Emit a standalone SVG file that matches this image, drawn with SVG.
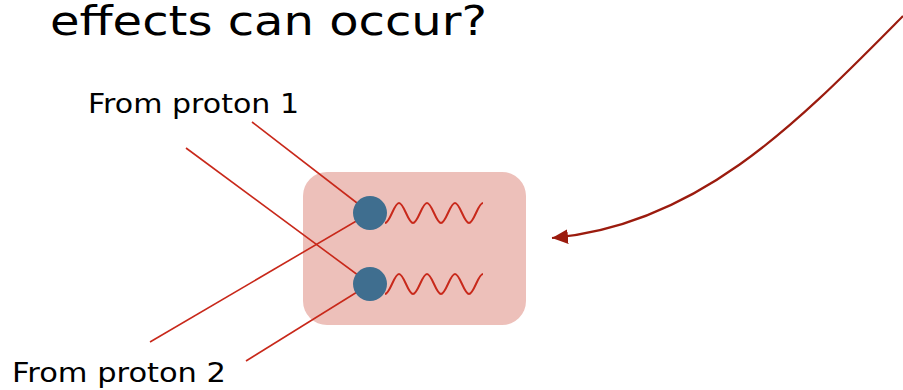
<svg xmlns="http://www.w3.org/2000/svg" width="903" height="390" viewBox="0 0 903 390">
<style>
.t{font-family:"DejaVu Sans","Liberation Sans",sans-serif;fill:#000}
.ln{stroke:#C8281A;stroke-width:1.6;fill:none}
.wv{stroke:#C8281A;stroke-width:2;fill:none}
.vx{fill:#3F6E8F}
</style>
<defs>
<marker id="ah" markerUnits="userSpaceOnUse" markerWidth="20" markerHeight="20" refX="16" refY="7.5" orient="auto">
<path d="M0,0 L16,7.5 L0,15 z" fill="#9B1B0E"/>
</marker>
</defs>
<rect width="903" height="390" fill="#fff"/>
<text class="t" x="50" y="35" font-size="40" textLength="437" lengthAdjust="spacingAndGlyphs">effects can occur?</text>
<g id="box">
<rect x="303" y="172" width="223" height="153" rx="24" fill="#EDC0BA"/>
</g>
<g id="connectors">
<line class="ln" x1="252" y1="122" x2="370" y2="213"/>
<line class="ln" x1="186" y1="148" x2="370" y2="284"/>
<line class="ln" x1="150" y1="342" x2="370" y2="213"/>
<line class="ln" x1="246" y1="361" x2="370" y2="284"/>
<path d="M903,16 C800,120 700,225 552,238" fill="none" stroke="#9B1B0E" stroke-width="2.2" marker-end="url(#ah)"/>
</g>
<g id="wave1">
<path class="wv" d="M385,223 C390,223 394,203 399,203 S408,223 413,223 S422,203 427,203 S436,223 441,223 S450,203 455,203 S464,223 469,223 S478,203 483,203"/>
</g>
<g id="wave2">
<path class="wv" d="M385,294 C390,294 394,274 399,274 S408,294 413,294 S422,274 427,274 S436,294 441,294 S450,274 455,274 S464,294 469,294 S478,274 483,274"/>
</g>
<g id="vertex1"><circle class="vx" cx="370" cy="213" r="17"/></g>
<g id="vertex2"><circle class="vx" cx="370" cy="284" r="17"/></g>
<g id="label1"><text class="t" x="88" y="113" font-size="27" textLength="211" lengthAdjust="spacingAndGlyphs">From proton 1</text></g>
<g id="label2"><text class="t" x="12" y="382" font-size="27" textLength="214" lengthAdjust="spacingAndGlyphs">From proton 2</text></g>
</svg>
